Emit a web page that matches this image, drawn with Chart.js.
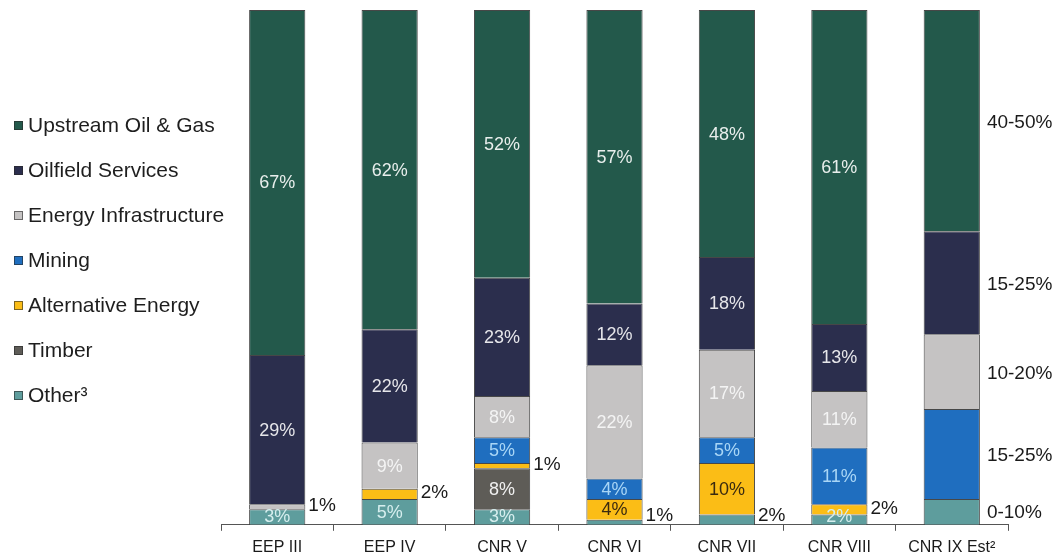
<!DOCTYPE html>
<html>
<head>
<meta charset="utf-8">
<script src="https://cdn.jsdelivr.net/npm/chart.js@4"></script>
<style>
  html, body { margin: 0; padding: 0; background: #fff; }
  #wrap { width: 1059px; height: 556px; }
</style>
</head>
<body>
<div id="wrap"><canvas id="fundChart"></canvas></div>
<script>
// Fund sector mix (% of invested capital), bottom segment first
const funds = ['EEP III', 'EEP IV', 'CNR V', 'CNR VI', 'CNR VII', 'CNR VIII', 'CNR IX Est²'];
const sectors = ['Other³', 'Timber', 'Alternative Energy', 'Mining', 'Energy Infrastructure', 'Oilfield Services', 'Upstream Oil & Gas'];

const other       = [3, 5, 3, 1, 2, 2, 5];
const timber      = [0, 0, 8, 0, 0, 0, 0];
const altEnergy   = [0, 2, 1, 4, 10, 2, 0];
const mining      = [0, 0, 5, 4, 5, 11, 17.5];
const infra       = [1, 9, 8, 22, 17, 11, 14.5];
const oilfield    = [29, 22, 23, 12, 18, 13, 20];
const upstream    = [67, 62, 52, 57, 48, 61, 43];

// target ranges shown beside the estimate bar (same order as sectors)
const estRanges = ['0-10%', '', '', '15-25%', '10-20%', '15-25%', '40-50%'];

const seriesValues = [other, timber, altEnergy, mining, infra, oilfield, upstream];
const fills = ['#5e9d9d', '#5e5c57', '#fbbd16', '#1f6ebf', '#c5c3c3', '#2b2e4d', '#23594b'];
const labelColors = ['#d6eeee', '#f0f0f0', '#3a2a10', '#a9d6f6', '#f4f4f4', '#e6e6ea', '#e8eeec'];

const FONT = '"Liberation Sans", Arial, sans-serif';

const legendPlugin = {
  id: 'sideLegend',
  afterDraw(chart) {
    const ctx = chart.ctx;
    ctx.save();
    ctx.font = '21px ' + FONT;
    ctx.textBaseline = 'middle';
    ctx.textAlign = 'left';
    for (let i = 0; i < sectors.length; i++) {
      const d = sectors.length - 1 - i;
      const y = 125 + i * 45;
      ctx.fillStyle = fills[d];
      ctx.fillRect(14, y - 4, 9, 9);
      ctx.strokeStyle = 'rgba(40,40,40,0.6)';
      ctx.lineWidth = 1;
      ctx.strokeRect(14.5, y - 3.5, 8, 8);
      ctx.fillStyle = '#1e1e1e';
      ctx.fillText(sectors[d], 28, y + 1);
    }
    ctx.restore();
  }
};

const barLabelPlugin = {
  id: 'barLabels',
  afterDatasetsDraw(chart) {
    const ctx = chart.ctx;
    const bottom = chart.chartArea.bottom;
    ctx.save();
    ctx.textBaseline = 'middle';
    funds.forEach((f, idx) => {
      const isEst = idx === funds.length - 1;
      let outsideUsed = false;
      for (let d = seriesValues.length - 1; d >= 0; d--) {
        const v = seriesValues[d][idx];
        const el = chart.getDatasetMeta(d).data[idx];
        if (!v || !el) continue;
        const top = Math.min(el.y, el.base);
        const bot = Math.max(el.y, el.base);
        const cy = (top + bot) / 2;
        const right = el.x + el.width / 2;
        if (isEst) {
          if (!estRanges[d]) continue;
          ctx.font = '19px ' + FONT;
          ctx.textAlign = 'left';
          ctx.fillStyle = '#1a1a1a';
          ctx.fillText(estRanges[d], right + 7, Math.min(cy + 2, bottom - 12));
          continue;
        }
        const txt = v + '%';
        if (v <= 2 && !outsideUsed) {
          outsideUsed = true;
          ctx.font = '19px ' + FONT;
          ctx.textAlign = 'left';
          ctx.fillStyle = '#1a1a1a';
          ctx.fillText(txt, right + 3, Math.min(cy - 1, bottom - 9));
        } else {
          ctx.font = '18px ' + FONT;
          ctx.textAlign = 'center';
          ctx.fillStyle = labelColors[d];
          ctx.fillText(txt, el.x, Math.min(cy + 1, bottom - 8));
        }
      }
    });
    ctx.restore();
  }
};

new Chart(document.getElementById('fundChart'), {
  type: 'bar',
  data: {
    labels: funds,
    datasets: sectors.map((s, i) => ({
      label: s,
      data: seriesValues[i],
      backgroundColor: fills[i],
      borderColor: 'rgba(25,25,25,0.8)',
      borderWidth: 1,
      categoryPercentage: 1,
      barPercentage: 0.5
    }))
  },
  options: {
    responsive: true,
    maintainAspectRatio: false,
    animation: false,
    layout: { padding: { left: 221, right: 51, top: 10, bottom: -8 } },
    plugins: {
      legend: { display: false },
      tooltip: { enabled: false }
    },
    scales: {
      x: {
        stacked: true,
        grid: { display: true, drawOnChartArea: false, drawTicks: true, tickLength: 6, color: '#555' },
        border: { display: true, color: '#555', width: 1 },
        ticks: { color: '#1a1a1a', font: { family: FONT, size: 16 }, padding: 7, maxRotation: 0 }
      },
      y: {
        stacked: true,
        display: false,
        min: 0,
        max: 100
      }
    }
  },
  plugins: [legendPlugin, barLabelPlugin]
});
</script>
</body>
</html>
